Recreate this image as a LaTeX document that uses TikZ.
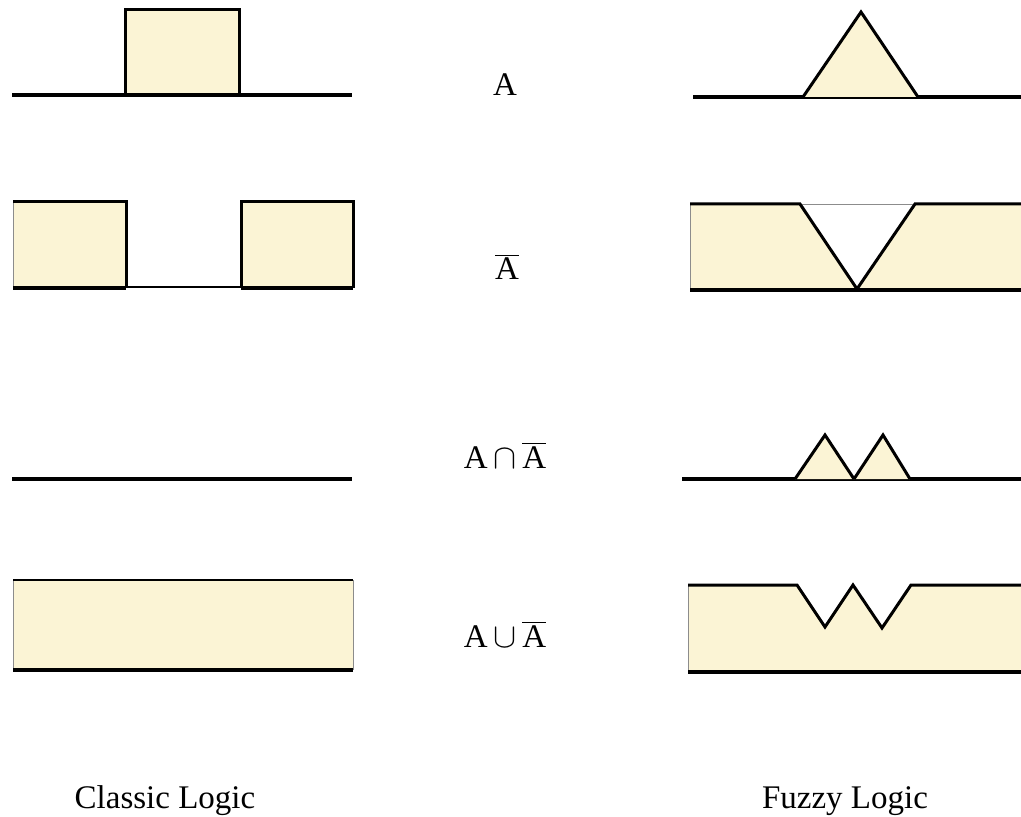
\documentclass[tikz,border=0pt]{standalone}
\usepackage{fontspec}
\setmainfont{Liberation Serif}
\usepackage{tikz}
\definecolor{setfill}{RGB}{251,244,213}
\definecolor{edgegray}{RGB}{140,140,140}
\newcommand{\negA}{$\overline{\hbox{A}}$}

\begin{document}
\begin{tikzpicture}[x=0.5pt,y=-0.5pt,
  axis/.style={line width=1.8pt,black},
  outline/.style={line width=1.5pt,black,line join=miter},
  faint/.style={line width=0.4pt,edgegray},
  lbl/.style={anchor=base,inner sep=0pt,font=\fontsize{16.5}{19}\selectfont}]
  \useasboundingbox (0,0) rectangle (1021,817);
  % classic logic
  \fill[setfill] (125,10) rectangle (239,95);
  \draw[outline] (125,95) -- (125,10) -- (239,10) -- (239,95);
  \draw[axis] (12,95) -- (352,95);
  \fill[setfill] (13,202) rectangle (126,288);
  \fill[setfill] (241,202) rectangle (353,288);
  \draw[faint] (13,288) -- (13,202);
  \draw[outline] (13,202) -- (126,202) -- (126,288);
  \draw[outline] (241,288) -- (241,202) -- (353,202) -- (353,288);
  \draw[axis] (13,288) -- (126,288);
  \draw[line width=1.1pt] (126,287) -- (241,287);
  \draw[axis] (241,288) -- (353,288);
  \draw[axis] (12,479) -- (352,479);
  \fill[setfill] (13,580) rectangle (353,670);
  \draw[faint] (13,670) -- (13,580);
  \draw[faint] (353,580) -- (353,670);
  \draw[line width=1.1pt] (13,580) -- (353,580);
  \draw[axis] (13,670) -- (353,670);
  % fuzzy logic
  \draw[axis] (693,97) -- (1021,97);
  \draw[outline,fill=setfill] (803,97) -- (861,12) -- (918,97);
  \fill[setfill] (690,204) -- (800,204) -- (857,289) -- (915,204) -- (1021,204)
    -- (1021,290) -- (690,290) -- cycle;
  \draw[faint] (690,290) -- (690,204);
  \draw[faint] (800,204) -- (915,204);
  \draw[outline] (690,204) -- (800,204) -- (857,289) -- (915,204) -- (1021,204);
  \draw[axis] (690,290) -- (1021,290);
  \draw[axis] (682,479) -- (1021,479);
  \draw[outline,fill=setfill] (795,479) -- (825,435) -- (854,479);
  \draw[outline,fill=setfill] (854,479) -- (883,435) -- (910,479);
  \fill[setfill] (688,585) -- (797,585) -- (825,627) -- (853,585) -- (882,628)
    -- (911,585) -- (1021,585) -- (1021,672) -- (688,672) -- cycle;
  \draw[faint] (688,672) -- (688,585);
  \draw[outline] (688,585) -- (797,585) -- (825,627) -- (853,585) -- (882,628)
    -- (911,585) -- (1021,585);
  \draw[axis] (688,672) -- (1021,672);
  % set labels
  \node[lbl] (setA) at (505,96) {A};
  \node[lbl] (setNotA) at (507,280) {\negA};
  \node[lbl] (setMeet) at (505,468) {A$\,\cap\,$\negA};
  \node[lbl] (setJoin) at (505,647) {A$\,\cup\,$\negA};
  \node[lbl] (classic) at (165,808) {Classic Logic};
  \node[lbl] (fuzzy) at (845,808) {Fuzzy Logic};
\end{tikzpicture}
\end{document}
